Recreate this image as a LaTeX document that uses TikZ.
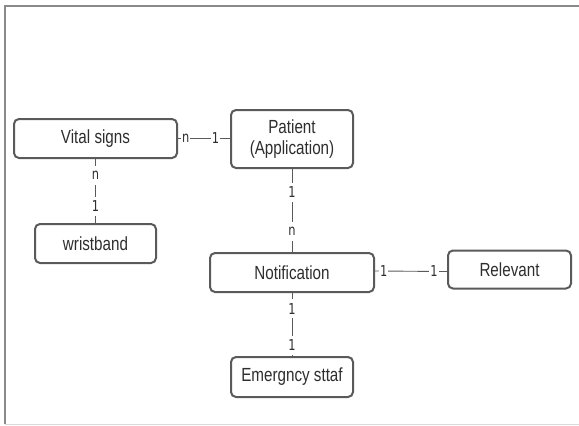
\documentclass[tikz,border=0pt]{standalone}
\usepackage{fontspec}
\setmainfont{Liberation Sans}[FakeStretch=0.8]
\newfontfamily\cardfont{DejaVu Sans}[FakeStretch=0.76]
\usepackage{tikz}
\usetikzlibrary{calc}
\definecolor{boxline}{HTML}{5A5A5A}
\definecolor{boxtext}{HTML}{2E2E2E}
\definecolor{framegray}{HTML}{8A8A8A}
\tikzstyle{entity}=[draw=boxline, line width=2pt, rounded corners=5pt, fill=white, text=boxtext, font=\fontsize{19}{20.5}\selectfont, align=center, inner sep=0pt]
\tikzstyle{link}=[draw=boxline, line width=0.9pt]
\tikzstyle{card}=[fill=white, text=boxtext, font=\cardfont\fontsize{15}{15}\selectfont, inner xsep=1pt, inner ysep=3pt, minimum height=19pt]

\begin{document}
\begin{tikzpicture}[x=1pt, y=-1pt]
	\useasboundingbox (0,0) rectangle (579,426);
	% frame
	\draw[framegray, line width=1.6pt] (5,424) -- (5,6) -- (579,6);
	\draw[gray!30, line width=0.8pt] (5,424) -- (579,424);
	% entities
	\node[entity, minimum width=163pt, minimum height=39pt] (vital) at (95.5,138.5) {Vital signs};
	\node[entity, minimum width=122pt, minimum height=58pt] (patient) at (292,139) {Patient\\(Application)};
	\node[entity, minimum width=121pt, minimum height=39pt] (wrist) at (95.5,243.5) {wristband};
	\node[entity, minimum width=164pt, minimum height=39pt] (notif) at (292,272.5) {Notification};
	\node[entity, minimum width=123pt, minimum height=38pt] (relevant) at (509.5,269.5) {Relevant};
	\node[entity, minimum width=122pt, minimum height=40pt] (staff) at (292,377) {Emergncy sttaf};
	% relations
	\draw[link] (vital.east) -- node[card, pos=.15] {n} node[card, pos=.72] {1} (vital.east -| patient.west);
	\draw[link] (vital.south) -- node[card, pos=.26] {n} node[card, pos=.74] {1} (wrist.north);
	\draw[link] (patient.south) -- node[card, pos=.28] {1} node[card, pos=.75] {n} (notif.north);
	\draw[link] ($(notif.east)+(0,-1.5)$) -- node[card, pos=.12] {1} node[card, pos=.82] {1} ($(relevant.west)+(0,2)$);
	\draw[link] (notif.south) -- node[card, pos=.25] {1} node[card, pos=.83] {1} (staff.north);
\end{tikzpicture}
\end{document}
